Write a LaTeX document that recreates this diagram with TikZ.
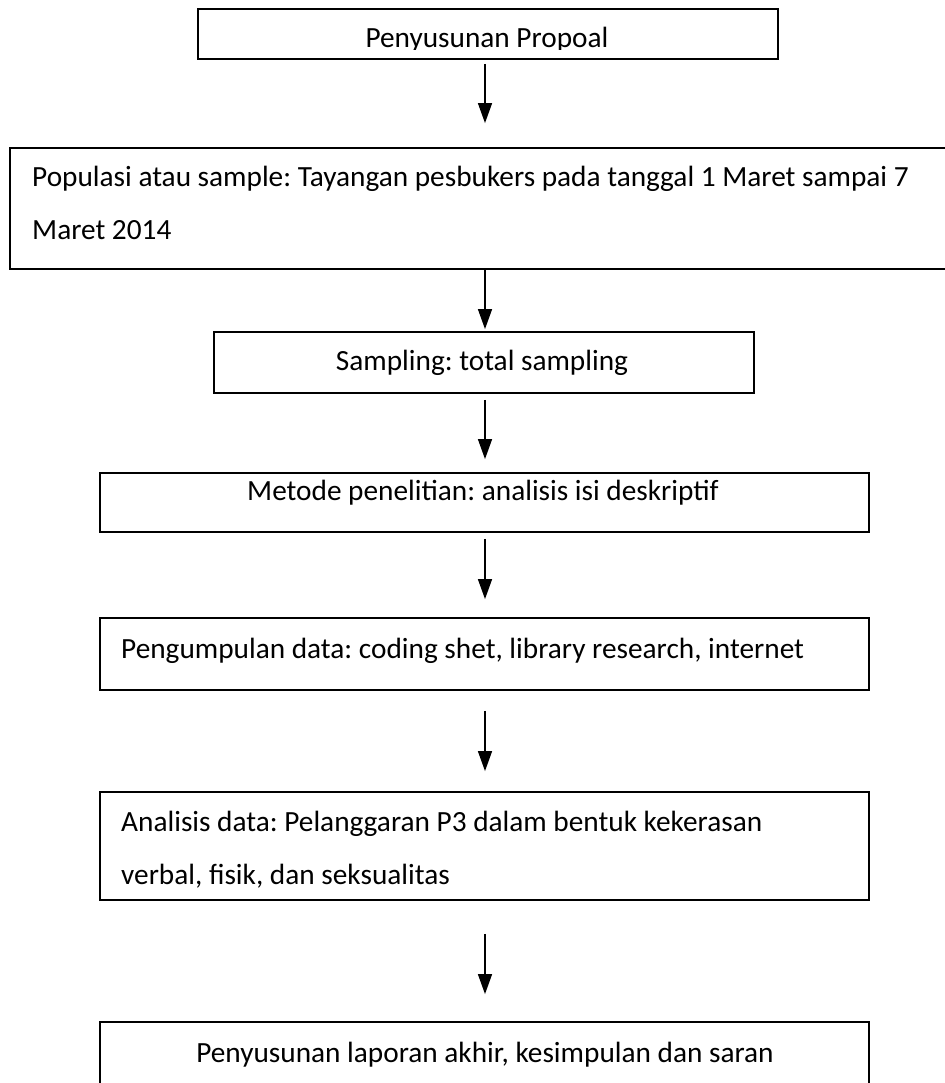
\documentclass[tikz,border=0pt]{standalone}
\usepackage{fontspec}
\setmainfont{Carlito}
\usepackage{tikz}
\usetikzlibrary{arrows.meta}
\frenchspacing
\tikzset{
    box/.style={draw, line width=1.8pt, inner sep=0pt},
    txt/.style={inner sep=0pt, font=\fontsize{29.3}{53}\selectfont},
    flow/.style={-{Triangle[length=20pt,width=14pt]}, line width=1.4pt}
}

\begin{document}
\begin{tikzpicture}[x=1pt,y=-1pt]
\useasboundingbox (0,0) rectangle (944,1083);
% boxes: name/left/top/right/bottom
\foreach \p/\xa/\ya/\xb/\yb in {b1/198/9/778/59, b2/10/148/947/269, b3/214/332/754/393, b4/100/473/869/532, b5/100/618/869/690, b6/100/792/869/900, b7/100/1022/869/1094}{
    \node[box, minimum width={(\xb-\xa)*1pt}, minimum height={(\yb-\ya)*1pt}] (\p) at ({(\xa+\xb)/2},{(\ya+\yb)/2}) {};
}
\begin{scope}
\clip (198,9) rectangle (778,50);
\node[txt, anchor=base] (t1) at (487,48) {Penyusunan Propoal};
\end{scope}
% two-line texts: base is the last line
\node[txt, anchor=base west, align=left] (t2) at (32,240) {Populasi atau sample: Tayangan pesbukers pada tanggal 1 Maret sampai 7\\Maret 2014};
\node[txt, anchor=base] (t3) at (482,370) {Sampling: total sampling};
\node[txt, anchor=base] (t4) at (483,500) {Metode penelitian: analisis isi deskriptif};
\node[txt, anchor=base west] (t5) at (121,658) {Pengumpulan data: coding shet, library research, internet};
\node[txt, anchor=base west, align=left] (t6) at (121,884) {Analisis data: Pelanggaran P3 dalam bentuk kekerasan\\verbal, fisik, dan seksualitas};
\node[txt, anchor=base] (t7) at (485,1062) {Penyusunan laporan akhir, kesimpulan dan saran};
% arrows down the middle
\coordinate (spine) at (485,0);
\foreach \a/\b/\s/\e in {b1/b2/4/24, b2/b3/0/2, b3/b4/6/13, b4/b5/6/18, b5/b6/20/20, b6/b7/33/27}{
    \draw[flow, shorten <=\s pt, shorten >=\e pt] (\a.south -| spine) -- (\b.north -| spine);
}
\end{tikzpicture}
\end{document}
